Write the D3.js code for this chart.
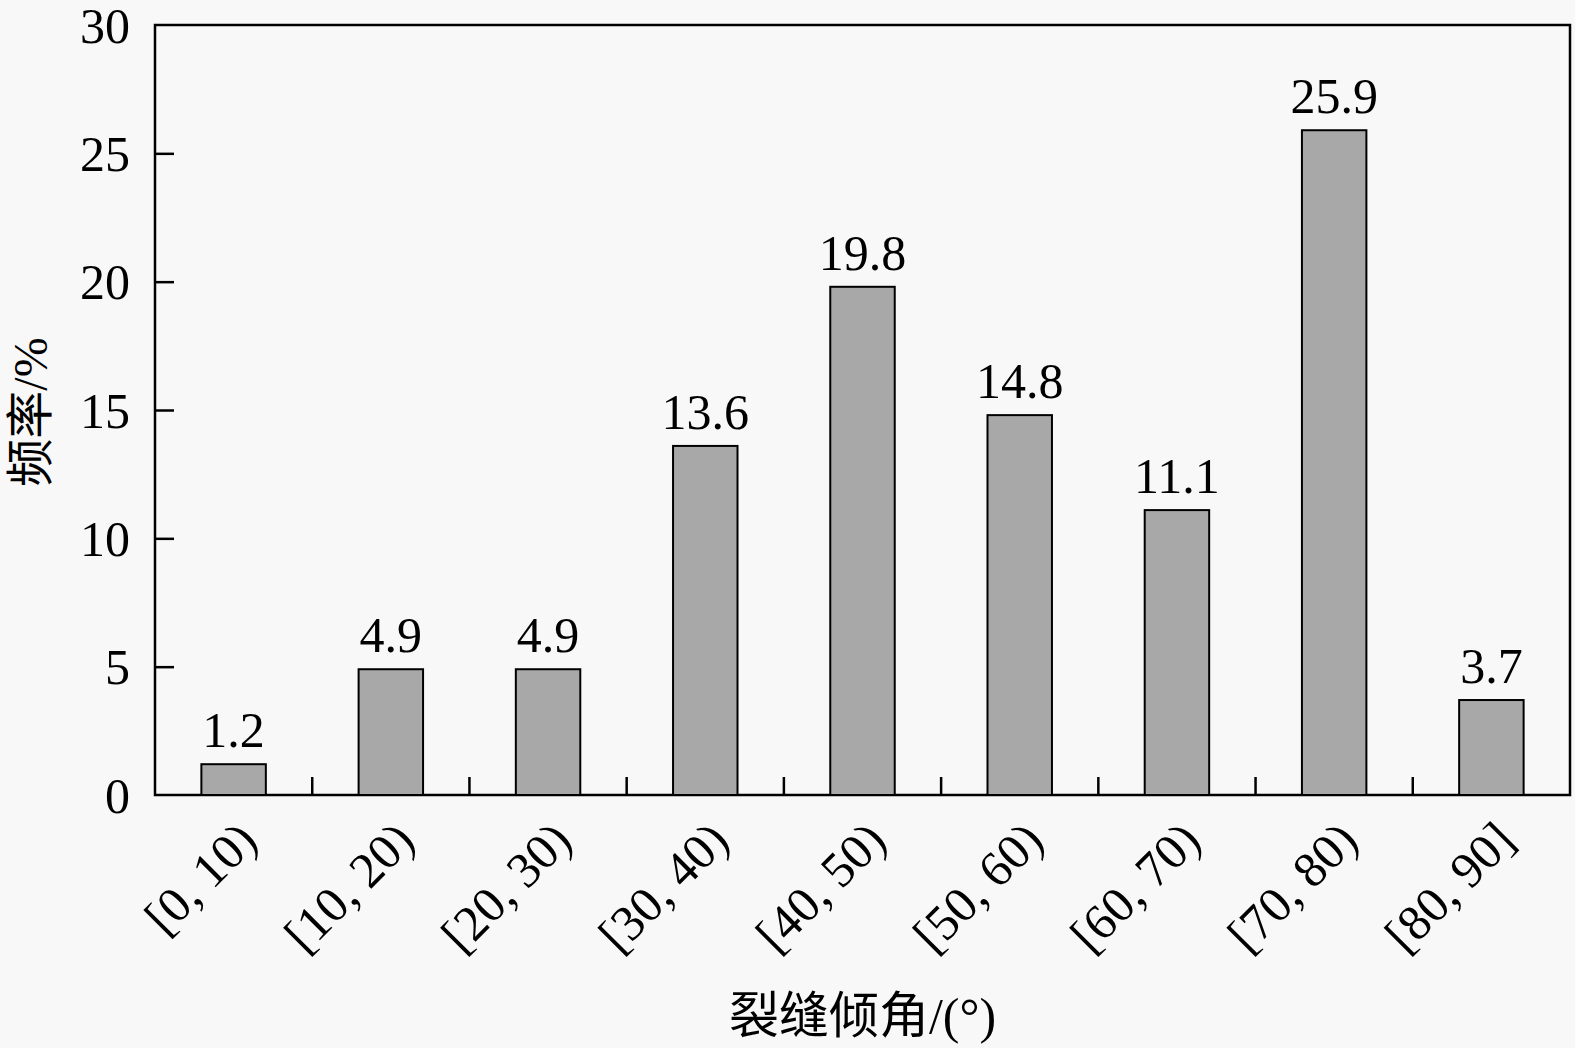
<!DOCTYPE html>
<html>
<head>
<meta charset="utf-8">
<script src="https://cdn.jsdelivr.net/npm/d3@7"></script>
<style>
  html, body { margin: 0; padding: 0; background: #f8f8f8; }
  svg { display: block; }
  text { font-family: "Liberation Serif", "Noto Sans CJK SC", serif; fill: #000; }
</style>
</head>
<body>
<svg id="chart" width="1575" height="1048"></svg>
<script>
const categories = ["[0, 10)", "[10, 20)", "[20, 30)", "[30, 40)", "[40, 50)", "[50, 60)", "[60, 70)", "[70, 80)", "[80, 90]"];
const frequency = [1.2, 4.9, 4.9, 13.6, 19.8, 14.8, 11.1, 25.9, 3.7];
const valueLabels = ["1.2", "4.9", "4.9", "13.6", "19.8", "14.8", "11.1", "25.9", "3.7"];
const yTicks = [0, 5, 10, 15, 20, 25, 30];
const xTitle = "裂缝倾角/(°)";
const yTitle = "频率/%";

const svg = d3.select("#chart");
const margin = { left: 155, right: 5, top: 25, bottom: 253 };
const W = 1575, H = 1048;
const x0 = margin.left, x1 = W - margin.right;
const y0 = H - margin.bottom, y1 = margin.top;

const x = d3.scaleBand().domain(categories).range([x0, x1]).paddingInner(0).paddingOuter(0);
const y = d3.scaleLinear().domain([0, 30]).range([y0, y1]);
const barW = x.bandwidth() * 0.41;
const fs = 50;

// frame
svg.append("rect")
  .attr("x", x0).attr("y", y1).attr("width", x1 - x0).attr("height", y0 - y1)
  .attr("fill", "#f8f8f8").attr("stroke", "#000").attr("stroke-width", 2.5);

// bars
const data = categories.map((c, i) => ({ c, v: frequency[i], l: valueLabels[i] }));
svg.append("g").selectAll("rect").data(data).join("rect")
  .attr("x", d => x(d.c) + x.bandwidth() / 2 - barW / 2)
  .attr("y", d => y(d.v))
  .attr("width", barW)
  .attr("height", d => y(0) - y(d.v))
  .attr("fill", "#a8a8a8")
  .attr("stroke", "#000")
  .attr("stroke-width", 2);

// value labels
svg.append("g").selectAll("text").data(data).join("text")
  .attr("x", d => x(d.c) + x.bandwidth() / 2)
  .attr("y", d => y(d.v) - 17)
  .attr("text-anchor", "middle")
  .attr("font-size", fs)
  .text(d => d.l);

// y axis
const yAxis = d3.axisLeft(y).tickValues(yTicks).tickSize(-19).tickPadding(25).tickFormat(d3.format("d"));
const gy = svg.append("g").attr("transform", `translate(${x0},0)`).call(yAxis);
gy.select(".domain").remove();
gy.selectAll(".tick line").attr("stroke", "#000").attr("stroke-width", 2.5);
gy.selectAll(".tick text").attr("font-size", fs).attr("font-family", "Liberation Serif").attr("dy", "0.34em");
gy.selectAll(".tick").filter(d => d === 0 || d === 30).select("line").remove();

// x axis ticks at band boundaries (inward)
const boundaries = categories.slice(1).map(c => x(c));
svg.append("g").selectAll("line").data(boundaries).join("line")
  .attr("x1", d => d).attr("x2", d => d)
  .attr("y1", y0).attr("y2", y0 - 18)
  .attr("stroke", "#000").attr("stroke-width", 2.5);

// x tick labels rotated
svg.append("g").selectAll("text").data(categories).join("text")
  .attr("transform", d => `translate(${x(d) + x.bandwidth() / 2 + 26},${y0 + 48}) rotate(-45)`)
  .attr("text-anchor", "end")
  .attr("font-size", fs)
  .text(d => d);

// axis titles
svg.append("text")
  .attr("x", (x0 + x1) / 2 + 0)
  .attr("y", 1033)
  .attr("text-anchor", "middle")
  .attr("font-size", fs)
  .text(xTitle);

svg.append("text")
  .attr("transform", `translate(47,412) rotate(-90)`)
  .attr("text-anchor", "middle")
  .attr("font-size", 48)
  .text(yTitle);
</script>
</body>
</html>
